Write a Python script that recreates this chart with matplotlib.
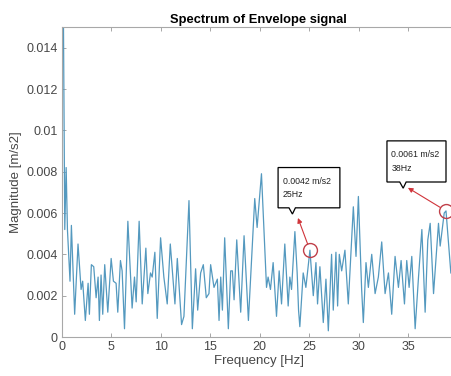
import matplotlib.pyplot as plt
from matplotlib.patches import Polygon

plt.rcParams['font.family'] = ['Liberation Sans', 'DejaVu Sans']

# envelope spectrum (peaks and troughs)
freq = [0.0, 0.15, 0.28, 0.42, 0.55, 0.68, 0.81, 0.95, 1.28, 1.62, 1.93, 2.09, 2.36, 2.64,
        2.77, 2.97, 3.21, 3.45, 3.65, 3.78, 3.95, 4.12, 4.32, 4.63, 4.97, 5.20, 5.47,
        5.64, 5.91, 6.08, 6.32, 6.66, 7.09, 7.33, 7.50, 7.80, 8.11, 8.48, 8.68, 8.95,
        9.12, 9.39, 9.63, 9.97, 10.30, 10.64, 10.95, 11.42, 11.66, 12.09, 12.33, 12.84,
        13.18, 13.51, 13.72, 14.02, 14.29, 14.59, 14.86, 15.03, 15.37, 15.71, 15.88,
        16.05, 16.22, 16.45, 16.82, 17.06, 17.23, 17.40, 17.67, 18.07, 18.41, 18.85,
        19.49, 19.73, 20.17, 20.68, 20.84, 21.08, 21.35, 21.69, 21.96, 22.20, 22.53,
        22.87, 23.04, 23.21, 23.55, 23.78, 23.92, 24.05, 24.39, 24.66, 25.07, 25.41,
        25.68, 25.84, 26.08, 26.42, 26.69, 26.93, 27.26, 27.43, 27.70, 27.87, 28.04,
        28.28, 28.61, 28.95, 29.46, 29.73, 29.97, 30.30, 30.47, 30.74, 30.98, 31.32,
        31.66, 31.99, 32.33, 32.67, 33.01, 33.34, 33.68, 34.02, 34.29, 34.63, 34.86,
        35.10, 35.37, 35.71, 36.05, 36.39, 36.72, 36.99, 37.23, 37.57, 38.07, 38.24,
        38.65, 38.83, 39.32]
mag = [0.0160, 0.0150, 0.0052, 0.0082, 0.0052, 0.0040, 0.0027, 0.0054, 0.0011, 0.0045,
       0.0023, 0.0027, 0.0008, 0.0026, 0.0011, 0.0035, 0.0034, 0.0019, 0.0029, 0.0008,
       0.0030, 0.0011, 0.0035, 0.0012, 0.0038, 0.0027, 0.0026, 0.0012, 0.0037, 0.0032,
       0.0004, 0.0056, 0.0014, 0.0029, 0.0017, 0.0056, 0.0016, 0.0043, 0.0021, 0.0031,
       0.0029, 0.0041, 0.0009, 0.0048, 0.0029, 0.0016, 0.0045, 0.0016, 0.0038, 0.0006,
       0.0010, 0.0066, 0.0004, 0.0033, 0.0013, 0.0031, 0.0035, 0.0019, 0.0021, 0.0035,
       0.0024, 0.0028, 0.0008, 0.0029, 0.0013, 0.0048, 0.0004, 0.0032, 0.0032, 0.0018,
       0.0047, 0.0012, 0.0049, 0.0008, 0.0067, 0.0053, 0.0079, 0.0024, 0.0029, 0.0023,
       0.0036, 0.0010, 0.0032, 0.0016, 0.0045, 0.0015, 0.0029, 0.0023, 0.0051, 0.0031,
       0.0013, 0.0005, 0.0031, 0.0024, 0.0042, 0.0020, 0.0036, 0.0016, 0.0034, 0.0007,
       0.0028, 0.0003, 0.0040, 0.0013, 0.0041, 0.0015, 0.0040, 0.0032, 0.0042, 0.0016,
       0.0063, 0.0039, 0.0068, 0.0023, 0.0007, 0.0036, 0.0024, 0.0040, 0.0021, 0.0029,
       0.0046, 0.0021, 0.0031, 0.0011, 0.0039, 0.0024, 0.0037, 0.0016, 0.0037, 0.0024,
       0.0039, 0.0004, 0.0029, 0.0052, 0.0012, 0.0047, 0.0055, 0.0021, 0.0055, 0.0044,
       0.0060, 0.0061, 0.0031]

# marked peaks
peak_f = [25.07, 38.83]
peak_m = [0.0042, 0.0061]
peak_txt = ['0.0042 m/s2\n25Hz', '0.0061 m/s2\n38Hz']

fig = plt.figure(figsize=(4.51, 3.76), dpi=100)
ax = fig.add_axes([62 / 451, 39 / 376, 393 / 451, 310 / 376])

ax.plot(freq, mag, color='#5499bf', lw=0.9)
ax.set_xlim(0, 39.74)
ax.set_ylim(0, 0.015)
ax.set_xticks([0, 5, 10, 15, 20, 25, 30, 35])
ax.set_yticks([0, 0.002, 0.004, 0.006, 0.008, 0.01, 0.012, 0.014])
ax.set_yticklabels(['0', '0.002', '0.004', '0.006', '0.008', '0.01', '0.012', '0.014'])
ax.tick_params(direction='in', top=True, length=3, width=0.6, colors='#999999',
               labelcolor='#474747', labelsize=9, pad=3)
for s in ax.spines.values():
    s.set_color('#a8a8a8')
    s.set_linewidth(0.8)

ax.set_title('Spectrum of Envelope signal', fontsize=9.3, fontweight='bold', pad=3)
ax.set_xlabel('Frequency [Hz]', fontsize=9.5, color='#474747', labelpad=1)
ax.set_ylabel('Magnitude [m/s2]', fontsize=9.5, color='#474747', labelpad=3)

red = '#d0343a'
ax.plot(peak_f, peak_m, 'o', mfc='none', mec='#c0404a', ms=10, mew=1.0)

# callout boxes: (x0, x1, y0, y1, tail x, tail tip y), arrow head
boxes = [(21.85, 28.1, 0.00625, 0.0082, 23.3, 0.00595),
         (32.86, 38.83, 0.0075, 0.00949, 34.5, 0.0072)]
heads = [(23.86, 0.00576), (34.98, 0.00722)]
for (x0, x1, y0, y1, tx, ty), (hx, hy), f, m, t in zip(boxes, heads, peak_f, peak_m, peak_txt):
    poly = Polygon([(x0, y0), (tx - 0.35, y0), (tx, ty), (tx + 0.3, y0), (x1, y0),
                    (x1, y1), (x0, y1)], closed=True, fc='white', ec='black', lw=0.9,
                   zorder=4)
    ax.add_patch(poly)
    ax.text(x0 + 0.45, (y0 + y1) / 2, t, fontsize=6.3, va='center', ha='left',
            linespacing=1.6, color='#222222', zorder=5)
    ax.annotate('', xy=(hx, hy), xytext=(f, m),
                arrowprops=dict(arrowstyle='-|>', color=red, lw=0.8, shrinkA=5,
                                shrinkB=0, mutation_scale=7), zorder=6)

fig.savefig('out.png', dpi=100)
